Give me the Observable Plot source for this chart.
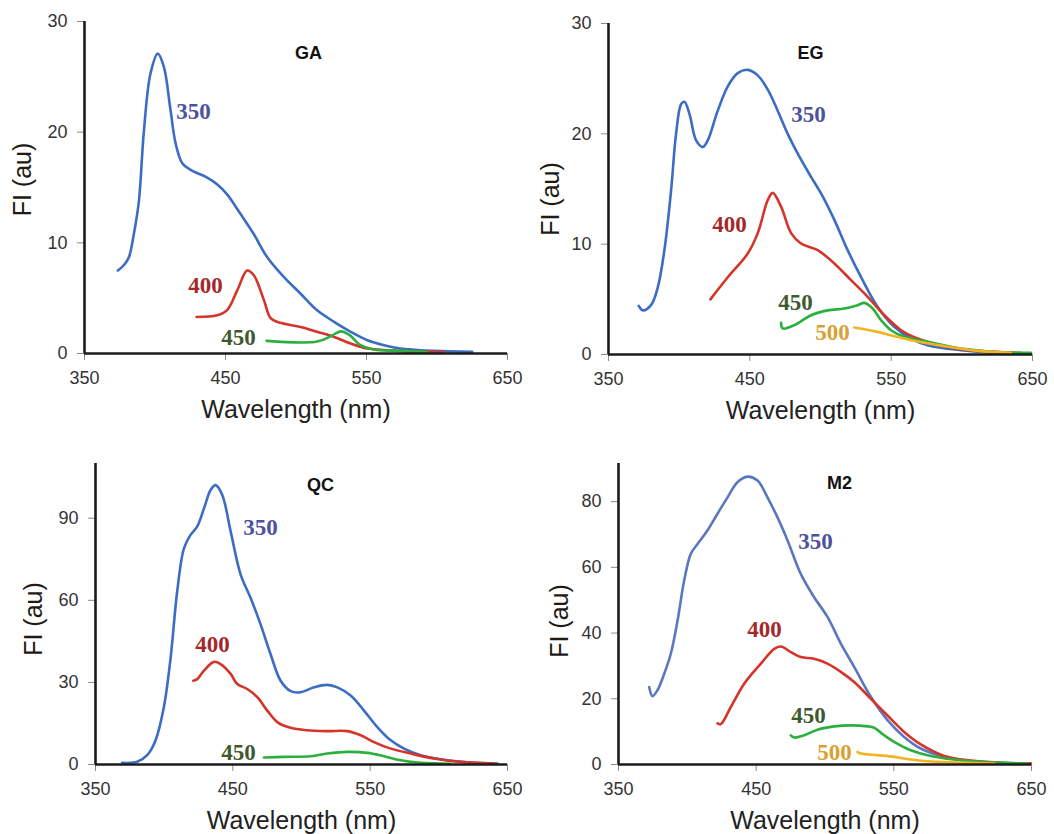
<!DOCTYPE html>
<html>
<head>
<meta charset="utf-8">
<script src="https://cdn.jsdelivr.net/npm/d3@7"></script>
<script src="https://cdn.jsdelivr.net/npm/@observablehq/plot@0.6"></script>
<style>
  body { margin: 0; background: #fff; }
  #wrap { position: relative; width: 1054px; height: 834px; overflow: hidden; background: #fff; }
  #wrap svg { position: absolute; }
</style>
</head>
<body>
<div id="wrap"></div>
<script>
// ---------- tick labels ----------
const wavelengthTicks = [350, 450, 550, 650];
const gaTicks = [0, 10, 20, 30];
const egTicks = [0, 10, 20, 30];
const qcTicks = [0, 30, 60, 90];
const m2Ticks = [0, 20, 40, 60, 80];

// ---------- series: [wavelength nm, FI au] ----------
const ga350 = [[373.7,7.5],[378,8.0],[381.5,8.7],[385,10.8],[388.6,13.8],[392,19.9],[396.8,25.3],[402,27.1],[406.3,25.9],[411,22.0],[414.6,19.0],[419.3,17.2],[425.2,16.6],[437,15.9],[444,15.3],[451,14.4],[460.7,12.6],[470,10.8],[479.6,8.7],[491.5,6.9],[503.3,5.4],[515,3.9],[527,2.86],[538.8,1.96],[550.6,1.2],[562.4,0.75],[574,0.45],[598,0.24],[625,0.15]];
const ga400 = [[429.5,3.3],[444,3.45],[451,3.9],[458.3,5.7],[465.4,7.5],[470.2,7.05],[477.3,4.8],[482,3.2],[489,2.77],[503.3,2.4],[515,1.96],[527,1.5],[538.8,0.9],[550.6,0.45],[574,0.24],[605,0.12]];
const ga450 = [[479.2,1.14],[515,1.08],[524.6,1.56],[531.7,2.0],[537.6,1.7],[545.9,0.75],[555.3,0.36],[574,0.24],[593,0.12]];

const eg350 = [[371.4,4.4],[374.3,4.0],[380.2,4.5],[384.9,6.1],[389.6,9.5],[394.3,14.9],[397.8,20.0],[401.4,22.7],[403.7,22.9],[407.3,21.8],[412,19.4],[416.7,18.8],[420.2,19.4],[427.3,22.1],[434.4,24.3],[441.4,25.5],[448.5,25.8],[455.6,25.3],[462.7,24.0],[469.7,22.1],[476.8,20.0],[483.9,18.2],[493.3,16.1],[500.4,14.6],[509.8,12.2],[519.2,9.46],[528.6,7.04],[540.4,4.32],[552.2,2.5],[564,1.45],[575.8,0.85],[599.4,0.39],[623,0.15],[649,0.09]];
const eg400 = [[422.1,5.0],[434.4,7.0],[448.5,9.15],[455.6,11.0],[462.7,14.0],[466.2,14.65],[472.1,13.4],[479.2,11.0],[486.2,10.06],[498,9.46],[509.8,8.25],[521.6,6.74],[533.4,5.23],[545.2,3.56],[557,2.2],[568.7,1.45],[587.6,0.76],[611,0.33],[641.8,0.15]];
const eg450 = [[472.1,2.87],[473.3,2.36],[481.5,2.66],[493.3,3.56],[505.1,4.0],[516.9,4.17],[526.3,4.47],[531,4.68],[536.9,4.17],[542.8,3.11],[549.9,2.2],[559.3,1.6],[575.8,1.15],[599.4,0.54],[627.6,0.21],[648.8,0.15]];
const eg500 = [[523.9,2.45],[540.4,2.05],[552.2,1.66],[564,1.3],[587.6,0.76],[611.2,0.33],[634.8,0.15]];

const qc350 = [[369.4,0.6],[380.4,0.97],[387.6,3.4],[393.7,8.8],[399.8,21],[404.7,39],[409.5,63.3],[414.4,79],[419.2,83.9],[424.1,87],[429,93.6],[433.8,100.3],[437.4,102.1],[442.3,98.5],[448.4,85.2],[455.7,69.4],[462.9,60.9],[470.2,51.2],[477.5,40.3],[484.8,30.6],[492.1,26.8],[499.4,26.4],[509.1,28.2],[518.8,29.1],[526.1,28.2],[535.8,25.2],[545.5,19.7],[555.2,13.7],[565,8.84],[574.7,5.8],[586.8,3.4],[601.4,1.94],[620.8,0.85],[642.7,0.36]];
const qc400 = [[421.2,30.6],[424.1,31.2],[429,34.3],[436.2,37.5],[441.1,36.7],[448.4,33.1],[453.2,29.4],[460.5,27.6],[467.8,24.6],[475.1,19.7],[482.4,15.5],[492.1,13.4],[504.2,12.5],[518.8,12.2],[533.4,12.2],[543.1,10.7],[552.8,8.2],[565,5.8],[579.5,4.0],[596.5,2.2],[616,0.97],[640.3,0.36]];
const qc450 = [[472.7,2.54],[487.2,2.79],[506.7,3.0],[518.8,4.0],[533.4,4.6],[548,4.24],[560.1,3.0],[572.2,1.57],[586.8,0.6],[608.7,0.24]];

const m2350 = [[372.3,23.6],[374.7,20.8],[378.3,22.6],[383.2,27.6],[388,33.7],[392.9,43.8],[397.7,56],[402.5,64.1],[407.4,67.1],[414.6,71.2],[421.9,76.3],[429.2,81.3],[436.4,85.9],[443.7,87.6],[451,86.4],[458.2,81.3],[465.5,75.2],[472.8,68.2],[482.4,58],[492.1,50.9],[501.8,44.9],[511.5,36.8],[521.2,29.7],[533.3,20.6],[545.4,13.5],[557.5,8.4],[569.6,4.86],[586.6,2.33],[605.9,1.0],[627.7,0.5],[649.5,0.3]];
const m2400 = [[421.9,12.5],[424.3,12.3],[431.6,17.5],[441.3,24.6],[453.4,30.7],[463.1,35.2],[468,35.9],[475.2,34.2],[482.4,32.7],[492.1,32.2],[501.8,30.7],[511.5,28.2],[521.2,25.1],[533.3,20.0],[545.4,14.9],[557.5,9.9],[569.6,6.1],[586.6,2.6],[605.9,1.2],[627.7,0.55],[649.5,0.28]];
const m2450 = [[475.2,8.9],[477.6,8.2],[484.9,8.9],[494.6,10.6],[506.7,11.6],[518.8,11.9],[530.9,11.6],[535.7,11.2],[543,8.9],[550.2,6.9],[562.3,4.35],[574.5,2.84],[593.8,1.5],[618,0.7],[647,0.3]];
const m2500 = [[523.6,3.85],[526,3.34],[538.1,2.84],[550.2,2.33],[562.3,1.5],[574.5,1.0],[598.7,0.6],[622.9,0.3]];

// ---------- annotation text (excitation wavelengths & sample names) ----------
const gaNotes = [["350",427.3,21.9],["400",435.8,6.1],["450",459.2,1.45]];
const egNotes = [["350",491.5,21.7],["400",435.6,11.8],["450",482.3,4.7],["500",508.5,2.0]];
const qcNotes = [["350",470.2,86.6],["400",435.2,43.9],["450",454.2,4.4]];
const m2Notes = [["350",493.1,67.8],["400",456,41.1],["450",488,14.9],["500",506.9,3.65]];
const titles = {GA:[508.9,27.1], EG:[493,27.3], QC:[513.9,102], M2:[510.5,85.7]};

// ---------- styling ----------
const lineColor = {"350":"#3c6cc3","400":"#d4342a","450":"#2bb03e","500":"#f5b322"};
const noteColor = {"350":"#4d529f","400":"#a3282b","450":"#3f5a30","500":"#d8a232"};

function panel(cfg) {
  const marks = [
    Plot.axisX({ticks: wavelengthTicks, tickSize: 7, tickPadding: 11, stroke: "#8a8a8a", fill: "#333", fontSize: 18, label: null}),
    Plot.axisY({ticks: cfg.yTicks, tickSize: 7, tickPadding: 10, stroke: "#8a8a8a", fill: "#333", fontSize: 18, label: null}),
  ];
  for (const [key, data] of cfg.series) {
    marks.push(Plot.line(data, {x: d => d[0], y: d => d[1], stroke: key === "350" && cfg.blue ? cfg.blue : lineColor[key], strokeWidth: 2.6, curve: "catmull-rom"}));
  }
  marks.push(
    Plot.ruleY([0], {stroke: "#1b1b1b", strokeWidth: 2.6}),
    Plot.ruleX([350], {stroke: "#1b1b1b", strokeWidth: 2.6})
  );
  for (const n of cfg.notes) {
    marks.push(Plot.text([n], {x: d => d[1], y: d => d[2], text: d => d[0], fill: noteColor[n[0]], fontFamily: "'Liberation Serif', 'Times New Roman', serif", fontWeight: "bold", fontSize: 23}));
  }
  marks.push(
    Plot.text([cfg.title], {x: () => titles[cfg.title][0], y: () => titles[cfg.title][1], text: d => d, fill: "#111", fontWeight: "bold", fontSize: 18}),
    Plot.text(["Wavelength (nm)"], {frameAnchor: "bottom", dy: 56, text: d => d, fill: "#222", fontSize: 25, textAnchor: "middle", lineAnchor: "middle"}),
    Plot.text(["FI (au)"], {frameAnchor: "left", dx: cfg.fiDx, dy: cfg.fiDy, rotate: -90, text: d => d, fill: "#221a14", fontSize: 25, textAnchor: "middle", lineAnchor: "middle"})
  );
  const svg = Plot.plot({
    width: cfg.width, height: cfg.height,
    marginLeft: cfg.ml, marginRight: cfg.mr, marginTop: cfg.mt, marginBottom: cfg.mb,
    x: {domain: [350, 650]},
    y: {domain: [0, cfg.ymax]},
    style: {fontFamily: "'Liberation Sans', Arial, sans-serif", background: "transparent", overflow: "visible"},
    marks
  });
  svg.style.left = cfg.left + "px";
  svg.style.top = cfg.top + "px";
  document.getElementById("wrap").appendChild(svg);
}

panel({title: "GA", left: 0, top: 0, width: 527, height: 434, ml: 84, mr: 20, mt: 21, mb: 81, ymax: 30, yTicks: gaTicks,
  series: [["350", ga350], ["400", ga400], ["450", ga450]], notes: gaNotes, fiDx: -62, fiDy: -8});
panel({title: "EG", left: 527, top: 0, width: 527, height: 434, ml: 81, mr: 22, mt: 23, mb: 80, ymax: 30, yTicks: egTicks,
  series: [["350", eg350], ["400", eg400], ["450", eg450], ["500", eg500]], notes: egNotes, fiDx: -58, fiDy: 10});
panel({title: "QC", left: 0, top: 434, width: 527, height: 400, ml: 95, mr: 20, mt: 29, mb: 70, ymax: 110, yTicks: qcTicks,
  series: [["350", qc350], ["400", qc400], ["450", qc450]], notes: qcNotes, fiDx: -62, fiDy: 5});
panel({title: "M2", left: 527, top: 434, width: 527, height: 400, ml: 91, mr: 23, mt: 29, mb: 70, ymax: 91.6, yTicks: m2Ticks,
  series: [["350", m2350], ["400", m2400], ["450", m2450], ["500", m2500]], notes: m2Notes, fiDx: -59, fiDy: 7, blue: "#5a78bf"});
</script>
</body>
</html>
